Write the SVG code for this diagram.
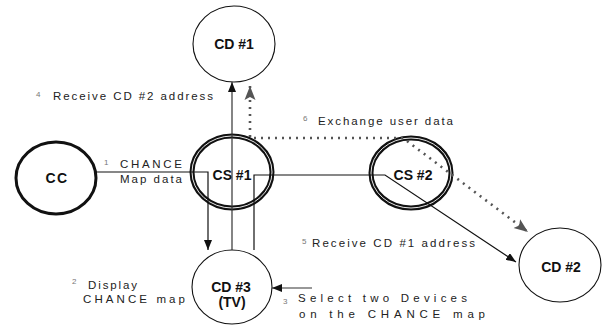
<svg xmlns="http://www.w3.org/2000/svg" width="607" height="333" viewBox="0 0 607 333">
  <style>
    .node-thin { fill: none; stroke: #111; stroke-width: 1.1; }
    .node-bold { fill: none; stroke: #111; stroke-width: 3; }
    .ring-outer { fill: none; stroke: #111; stroke-width: 5; }
    .ring-inner { fill: none; stroke: #fff; stroke-width: 0.9; }
    .name { font-family: "Liberation Sans", Arial, sans-serif; font-weight: bold; font-size: 14px; fill: #111; text-anchor: middle; }
    .label { font-family: "Liberation Sans", Arial, sans-serif; font-size: 11.5px; fill: #222; }
    .step { font-family: "Liberation Sans", Arial, sans-serif; font-size: 8px; fill: #777; }
    .wire { fill: none; stroke: #111; stroke-width: 1.2; }
    .wire-grey { fill: none; stroke: #333; stroke-width: 1.2; }
    .dots { fill: none; stroke: #555; stroke-width: 2.6; stroke-dasharray: 2 5; }
  </style>
  <defs>
    <marker id="head" viewBox="0 0 10 8" refX="10" refY="4" markerWidth="10" markerHeight="8" markerUnits="userSpaceOnUse" orient="auto">
      <path d="M0,0 L10,4 L0,8 Z" fill="#111"/>
    </marker>
    <marker id="head-dots" viewBox="0 0 14 12" refX="14" refY="6" markerWidth="14" markerHeight="12" markerUnits="userSpaceOnUse" orient="auto-start-reverse">
      <path d="M0,0.5 L14,6 L0,11.5 L3,6 Z" fill="#555"/>
    </marker>
  </defs>

  <!-- nodes -->
  <g id="cd1">
    <ellipse class="node-thin" cx="234" cy="44" rx="41" ry="38"/>
    <text class="name" x="234" y="49">CD #1</text>
  </g>
  <g id="cc">
    <ellipse class="node-bold" cx="56" cy="178" rx="40" ry="36"/>
    <text class="name" x="57" y="183" letter-spacing="1.5">CC</text>
  </g>
  <g id="cs1">
    <ellipse class="ring-outer" cx="232" cy="172" rx="40" ry="36"/>
    <ellipse class="ring-inner" cx="232" cy="172" rx="40" ry="36"/>
    <text class="name" x="232" y="180">CS #1</text>
  </g>
  <g id="cs2">
    <ellipse class="ring-outer" cx="411" cy="173" rx="40" ry="35"/>
    <ellipse class="ring-inner" cx="411" cy="173" rx="40" ry="35"/>
    <text class="name" x="413" y="180">CS #2</text>
  </g>
  <g id="cd3">
    <ellipse class="node-thin" cx="232" cy="287" rx="40" ry="37"/>
    <text class="name" x="231" y="292">CD #3</text>
    <text class="name" x="232" y="307">(TV)</text>
  </g>
  <g id="cd2">
    <ellipse class="node-thin" cx="560" cy="265" rx="41" ry="37"/>
    <text class="name" x="561" y="272">CD #2</text>
  </g>

  <!-- connectors -->
  <g id="connectors">
    <!-- 1: CC sends map data via CS #1 down to CD #3 -->
    <path class="wire" d="M96,172 H208 V250" marker-end="url(#head)"/>
    <!-- 3: selection enters CD #3 -->
    <path class="wire-grey" d="M312,288 H272" marker-end="url(#head)"/>
    <!-- 4: address up to CD #1 -->
    <path class="wire-grey" d="M232,250 V82" marker-end="url(#head)"/>
    <!-- 5: address out to CD #2 through CS #2 -->
    <path class="wire" d="M254,250 V175 H385 L516,262" marker-end="url(#head)"/>
    <!-- 6: user data exchange between CD #1 and CD #2 -->
    <path class="dots" d="M250,86 V138 H403 L528,232" marker-start="url(#head-dots)" marker-end="url(#head-dots)"/>
  </g>

  <!-- labels -->
  <g id="labels">
    <text class="step" x="36" y="97">4</text>
    <text class="label" x="53" y="100" textLength="160" lengthAdjust="spacing">Receive CD #2 address</text>

    <text class="step" x="303" y="121">6</text>
    <text class="label" x="318" y="125" textLength="135" lengthAdjust="spacing">Exchange user data</text>

    <text class="step" x="104" y="165">1</text>
    <text class="label" x="120" y="168" textLength="62" lengthAdjust="spacing">CHANCE</text>
    <text class="label" x="120" y="183" textLength="62" lengthAdjust="spacing">Map data</text>

    <text class="step" x="302" y="244">5</text>
    <text class="label" x="312" y="247" textLength="163" lengthAdjust="spacing">Receive CD #1 address</text>

    <text class="step" x="72" y="284">2</text>
    <text class="label" x="88" y="289" textLength="49" lengthAdjust="spacing">Display</text>
    <text class="label" x="83" y="303" textLength="102" lengthAdjust="spacing">CHANCE map</text>

    <text class="step" x="283" y="304">3</text>
    <text class="label" x="298" y="302" textLength="169" lengthAdjust="spacing">Select two Devices</text>
    <text class="label" x="299" y="318" textLength="186" lengthAdjust="spacing">on the CHANCE map</text>
  </g>
</svg>
